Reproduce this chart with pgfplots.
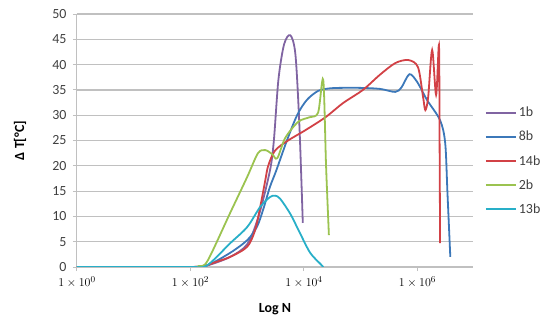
\documentclass[border=0pt]{standalone}
\usepackage{pgfplots}
\pgfplotsset{compat=1.18}
\usepackage{fontspec}
\setmainfont{Carlito}
\definecolor{cA}{RGB}{128,100,162}
\definecolor{cB}{RGB}{60,120,185}
\definecolor{cC}{RGB}{210,65,70}
\definecolor{cD}{RGB}{155,195,80}
\definecolor{cE}{RGB}{40,175,200}
\definecolor{gridc}{RGB}{192,192,192}
\begin{document}
\begin{tikzpicture}
\begin{axis}[
  name=ax,
  scale only axis,
  width=396bp, height=253bp,
  xmin=0, xmax=6.98, ymin=0, ymax=50,
  axis lines=left,
  axis line style={-, draw=gridc, line width=1bp},
  xtick={0,2,4,6},
  xticklabels={$1\times10^{0}$,$1\times10^{2}$,$1\times10^{4}$,$1\times10^{6}$},
  ytick={0,5,...,50},
  yticklabels={0,5,10,15,20,25,30,35,40,45,50},
  ymajorgrids,
  grid style={gridc, line width=1.2bp},
  tick align=outside,
  major tick length=4bp,
  tick style={gridc, line width=1bp},
  xticklabel style={font=\fontsize{12.5}{14}\selectfont, yshift=-2bp},
  yticklabel style={font=\fontsize{14}{16}\selectfont, text=black!75, xshift=-3bp},
  xlabel={\textbf{Log N}},
  ylabel={\textbf{Δ T[°C]}},
  xlabel style={at={(axis description cs:0.5,-0.166)}, anchor=center, font=\fontsize{14}{16}\selectfont},
  ylabel style={at={(axis description cs:-0.144,0.5)}, anchor=center, font=\fontsize{14}{16}\selectfont},
  legend style={draw=none, fill=none, at={(axis description cs:1.03,0.419)}, anchor=west,
    font=\fontsize{14}{16}\selectfont, row sep=9bp, inner sep=0pt, text=black!75},
  legend cell align=left,
  legend image code/.code={\draw[#1, line width=1.8bp] (0bp,0bp) -- (30bp,0bp);},
  every axis plot/.append style={line width=1.8bp, smooth, tension=0.5},
  clip=true,
]
\addplot[cA] coordinates {
(0,0)(1,0)(2,0)(2.29,0.3)(2.70,2)(3.00,4.5)(3.20,10)(3.40,19)(3.47,25)(3.55,37)(3.65,44)(3.76,45.8)(3.85,42)(3.92,28)(3.98,8.7)
};
\addlegendentry{1b}
\addplot[cB] coordinates {
(0,0)(1,0)(2,0)(2.29,0.3)(2.70,2.8)(3.00,5.3)(3.17,7.9)(3.28,11.3)(3.40,15.8)(3.51,19)(3.70,25)(3.88,30)(4.05,33)(4.25,34.8)(4.45,35.3)(4.64,35.4)(4.99,35.4)(5.34,35.2)(5.61,34.6)(5.72,35.5)(5.86,38.1)(6.00,36.5)(6.17,33)(6.40,29)(6.49,24.5)(6.53,14.6)(6.58,2)
};
\addlegendentry{8b}
\addplot[cC] coordinates {
(0,0)(1,0)(2,0)(2.29,0.3)(2.40,0.8)(2.70,2)(3.00,4)(3.14,7.3)(3.23,11.9)(3.32,17.2)(3.37,20)(3.49,23)(3.72,25)(4.02,27)(4.38,29.6)(4.69,32.4)(5.04,35)(5.34,38)(5.61,40.3)(5.84,40.9)(6.01,39.5)(6.10,33.6)(6.14,31)(6.19,33.6)(6.26,42.9)(6.33,34)(6.38,43.9)(6.39,27)(6.40,4.7)
};
\addlegendentry{14b}
\addplot[cD] coordinates {
(0,0)(1,0)(2,0)(2.15,0.2)(2.30,1.2)(2.70,10.7)(3.00,17.8)(3.19,22.5)(3.32,23.1)(3.44,22.3)(3.53,21.5)(3.67,25.5)(3.90,28.7)(4.10,29.6)(4.25,30.5)(4.34,37)(4.39,20)(4.44,6.3)
};
\addlegendentry{2b}
\addplot[cE] coordinates {
(0,0)(1,0)(2,0)(2.29,0.3)(2.70,4.7)(3.00,7.9)(3.23,11.9)(3.40,13.8)(3.49,14.1)(3.58,13.5)(3.76,10.5)(3.93,6.7)(4.11,2.8)(4.30,0.5)(4.34,0)
};
\addlegendentry{13b}
\end{axis}
\pgfresetboundingbox
\path ([shift={(-77bp,-55bp)}]ax.south west) rectangle ([shift={(473bp,267bp)}]ax.south west);
\end{tikzpicture}
\end{document}
